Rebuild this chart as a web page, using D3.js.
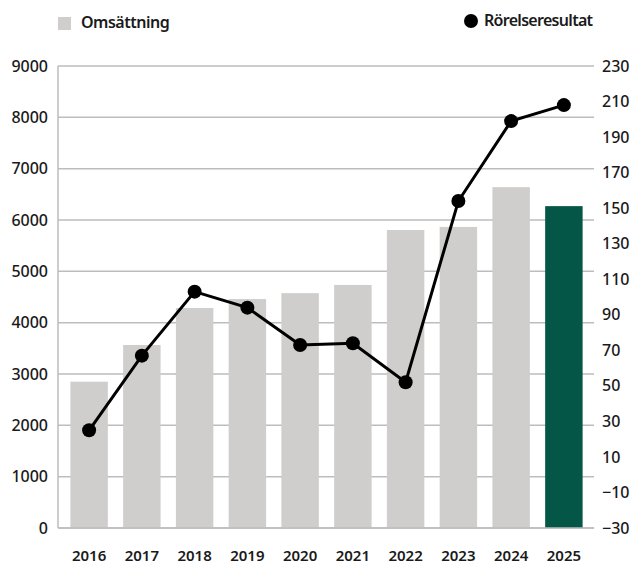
<!DOCTYPE html>
<html>
<head>
<meta charset="utf-8">
<script src="https://cdn.jsdelivr.net/npm/d3@7"></script>
<style>
  body { margin: 0; background: #fff; }
  text { font-family: "Noto Sans", "Open Sans", sans-serif; fill: #1a1a1a; }
</style>
</head>
<body>
<div id="chart"></div>
<script>
// ---------------------------//
//            DATA            //
// ---------------------------//
var years = ["2016", "2017", "2018", "2019", "2020", "2021", "2022", "2023", "2024", "2025"];
var omsattning = [2850, 3565, 4285, 4460, 4575, 4735, 5805, 5865, 6640, 6270];
var rorelseresultat = [25, 67, 103, 94, 73, 74, 52, 154, 199, 208];
var leftTicks = [0, 1000, 2000, 3000, 4000, 5000, 6000, 7000, 8000, 9000];
var rightTicks = [230, 210, 190, 170, 150, 130, 110, 90, 70, 50, 30, 10, -10, -30];

// ---------------------------//
//         DIMENSIONS         //
// ---------------------------//
var width = 633;
var height = 566;
var plot = { left: 58, right: 594, top: 66, bottom: 528 };

var svg = d3.select("#chart")
  .append("svg")
  .attr("width", width)
  .attr("height", height);

// ---------------------------//
//       AXIS  AND SCALE      //
// ---------------------------//
var x = d3.scaleBand()
  .domain(years)
  .range([63, 590])
  .paddingInner(0.29)
  .paddingOuter(0.14);

var yLeft = d3.scaleLinear()
  .domain([0, 9000])
  .range([plot.bottom, plot.top]);

var yRight = d3.scaleLinear()
  .domain([-30, 230])
  .range([plot.bottom, plot.top]);

// gridlines
svg.append("g")
  .selectAll("line")
  .data(leftTicks)
  .enter()
  .append("line")
  .attr("x1", plot.left)
  .attr("x2", plot.right)
  .attr("y1", d => yLeft(d))
  .attr("y2", d => yLeft(d))
  .attr("stroke", "#bdbdbd")
  .attr("stroke-width", 1.5);

// left axis line
svg.append("line")
  .attr("x1", plot.left)
  .attr("x2", plot.left)
  .attr("y1", plot.top)
  .attr("y2", plot.bottom)
  .attr("stroke", "#bdbdbd")
  .attr("stroke-width", 1.5);

// bars
svg.selectAll("rect.bar")
  .data(years)
  .enter()
  .append("rect")
  .attr("class", "bar")
  .attr("x", d => x(d))
  .attr("width", x.bandwidth())
  .attr("y", (d, i) => yLeft(omsattning[i]))
  .attr("height", (d, i) => yLeft(0) - yLeft(omsattning[i]))
  .attr("fill", (d, i) => i === years.length - 1 ? "#045646" : "#cfcecc");

// bottom axis line over bars
svg.append("line")
  .attr("x1", plot.left)
  .attr("x2", plot.right)
  .attr("y1", plot.bottom)
  .attr("y2", plot.bottom)
  .attr("stroke", "#bdbdbd")
  .attr("stroke-width", 1.5);

// line
var line = d3.line()
  .x((d, i) => x(years[i]) + x.bandwidth() / 2)
  .y(d => yRight(d));

svg.append("path")
  .datum(rorelseresultat)
  .attr("fill", "none")
  .attr("stroke", "#000")
  .attr("stroke-width", 3)
  .attr("d", line);

svg.selectAll("circle.dot")
  .data(rorelseresultat)
  .enter()
  .append("circle")
  .attr("class", "dot")
  .attr("cx", (d, i) => x(years[i]) + x.bandwidth() / 2)
  .attr("cy", d => yRight(d))
  .attr("r", 7)
  .attr("fill", "#000");

// left tick labels
svg.append("g")
  .selectAll("text")
  .data(leftTicks)
  .enter()
  .append("text")
  .attr("x", 48)
  .attr("y", d => yLeft(d))
  .attr("dy", "0.35em")
  .attr("text-anchor", "end")
  .style("font-size", "16px")
  .style("font-weight", 500)
  .text(d => d);

// right tick labels (spread evenly along the axis)
var rightPos = d3.scalePoint()
  .domain(rightTicks)
  .range([plot.top, plot.bottom]);

svg.append("g")
  .selectAll("text")
  .data(rightTicks)
  .enter()
  .append("text")
  .attr("x", 602)
  .attr("y", d => rightPos(d))
  .attr("dy", "0.35em")
  .style("font-size", "16px")
  .style("font-weight", 500)
  .text(d => d < 0 ? "\u2212" + Math.abs(d) : d);

// x labels
svg.append("g")
  .selectAll("text")
  .data(years)
  .enter()
  .append("text")
  .attr("x", d => x(d) + x.bandwidth() / 2)
  .attr("y", 555.5)
  .attr("dy", "0.35em")
  .attr("text-anchor", "middle")
  .style("font-size", "15px")
  .style("font-weight", 600)
  .text(d => d);

// ---------------------------//
//           LEGEND           //
// ---------------------------//
svg.append("rect")
  .attr("x", 58)
  .attr("y", 17)
  .attr("width", 13)
  .attr("height", 13)
  .attr("fill", "#cfcecc");

svg.append("text")
  .attr("x", 81)
  .attr("y", 22)
  .attr("dy", "0.35em")
  .style("font-size", "16px")
  .style("font-weight", 600)
  .style("letter-spacing", "-0.5px")
  .text("Omsättning");

svg.append("circle")
  .attr("cx", 471)
  .attr("cy", 21)
  .attr("r", 7)
  .attr("fill", "#000");

svg.append("text")
  .attr("x", 484)
  .attr("y", 20.5)
  .attr("dy", "0.35em")
  .style("font-size", "16px")
  .style("font-weight", 600)
  .style("letter-spacing", "-0.7px")
  .text("Rörelseresultat");
</script>
</body>
</html>
